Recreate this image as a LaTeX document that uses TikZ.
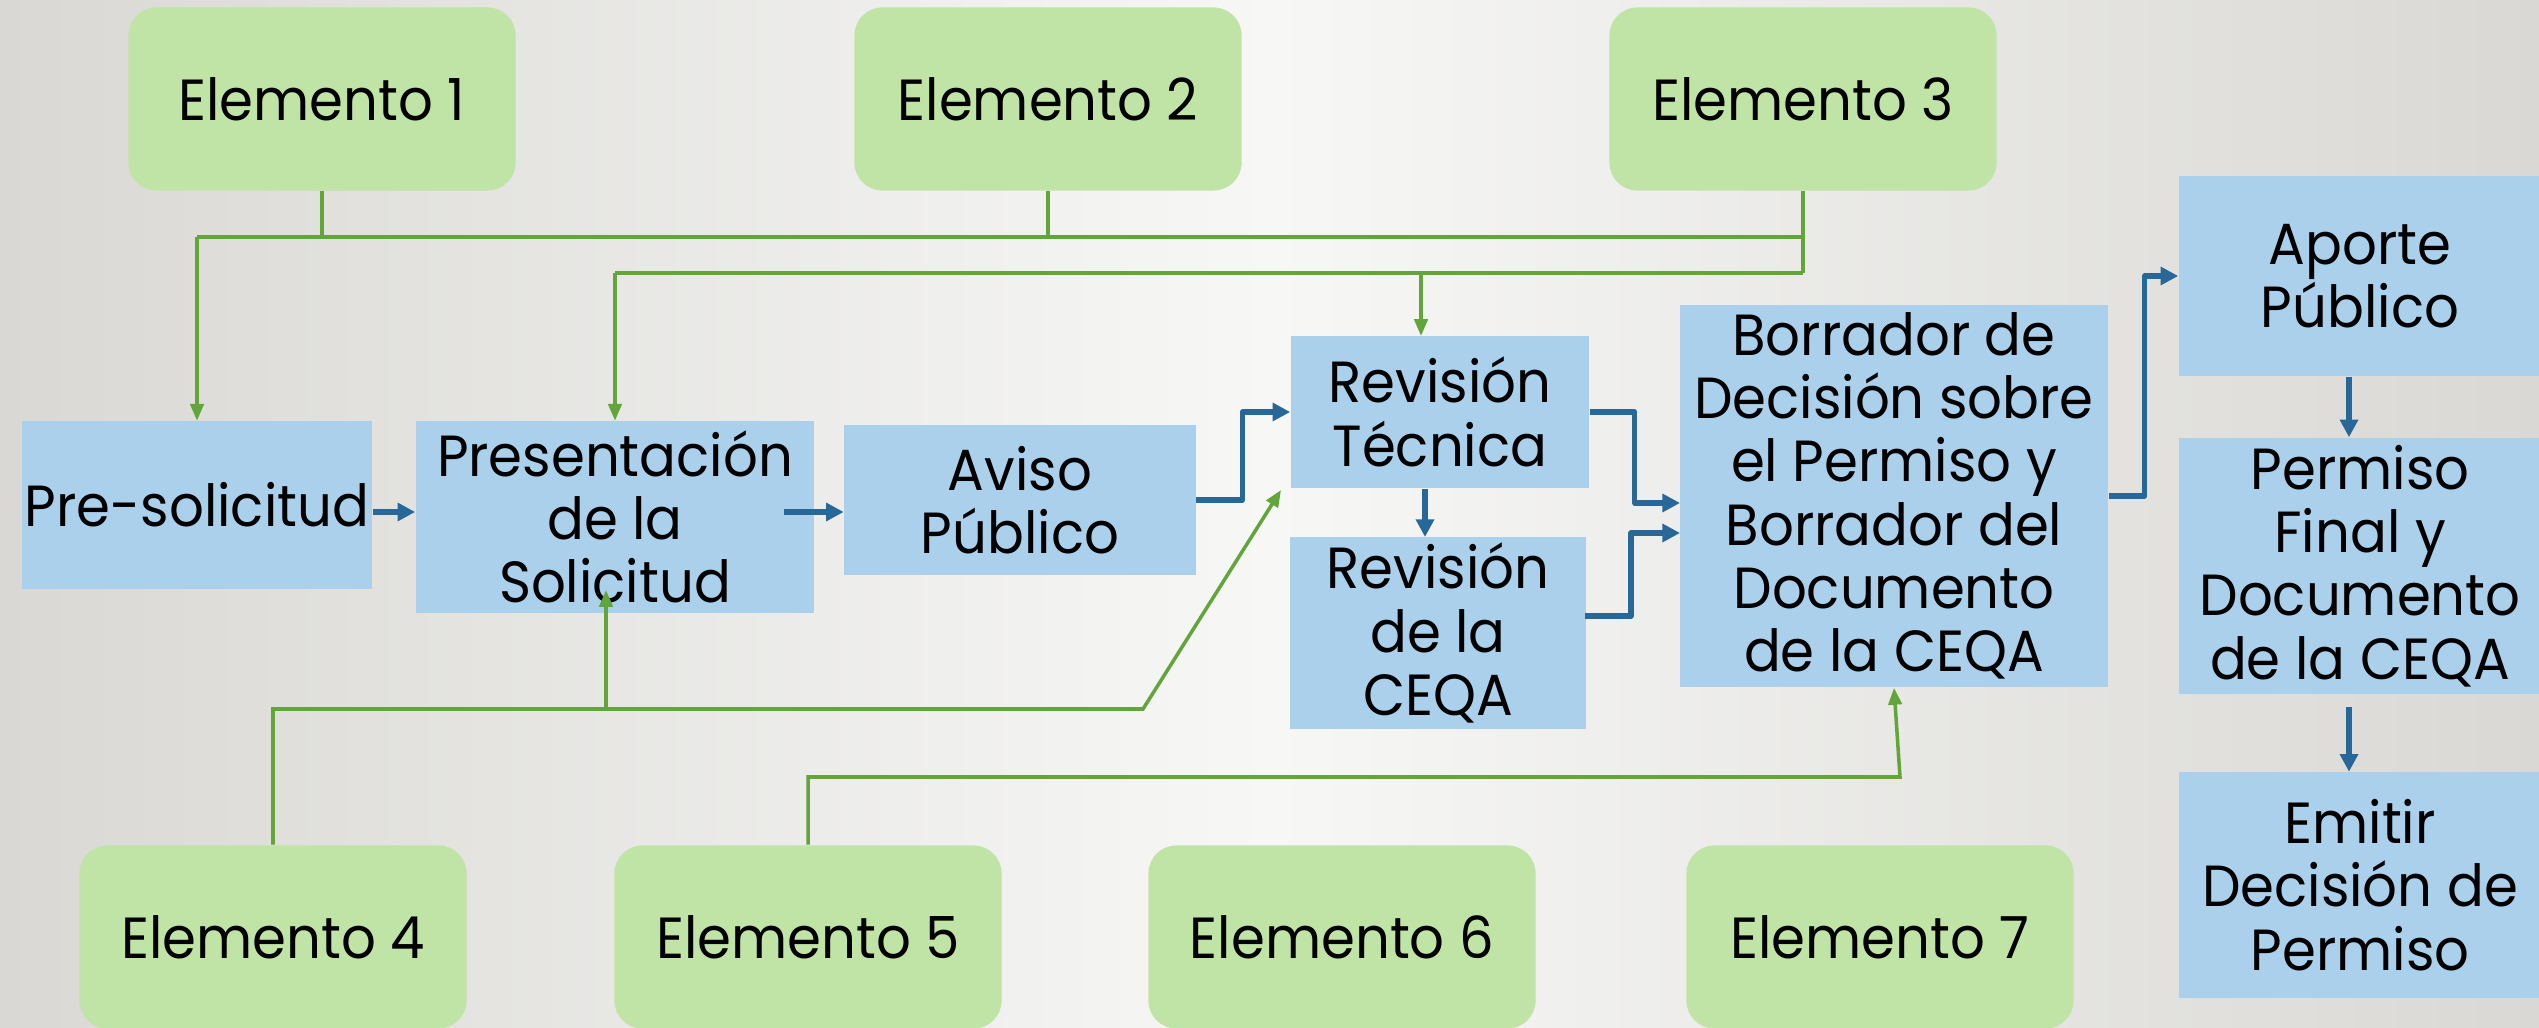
\documentclass[tikz,border=0pt]{standalone}
\usepackage{fontspec}
\setmainfont[FakeStretch=0.94]{Poppins}
\usetikzlibrary{arrows.meta}

\definecolor{elemgreen}{RGB}{192,227,166}
\definecolor{stageblue}{RGB}{171,208,235}
\definecolor{linkgreen}{RGB}{98,165,58}
\definecolor{flowblue}{RGB}{39,104,153}
\definecolor{bgside}{RGB}{217,216,212}
\definecolor{bgmid}{RGB}{247,247,246}

\begin{document}
\begin{tikzpicture}[x=0.01cm,y=-0.01cm,
  font=\fontsize{16.5}{18}\selectfont,
  elem/.style={fill=elemgreen,rounded corners=0.28cm,minimum width=3.87cm,minimum height=1.83cm,inner sep=0pt,align=center},
  stage/.style={fill=stageblue,inner sep=0pt,align=center},
  glink/.style={draw=linkgreen,line width=1pt},
  garrow/.style={glink,-{Triangle[length=4.8pt,width=3.8pt]}},
  barrow/.style={draw=flowblue,line width=1.5pt,line join=round,-{Triangle[length=5pt,width=5pt]}}]

% background
\shade[left color=bgside,right color=bgside,middle color=bgmid] (0,0) rectangle (2539,1028);
\useasboundingbox (0,0) rectangle (2539,1028);

% Stages
\node[stage,minimum width=3.50cm,minimum height=1.67cm] (pre) at (197,505) {Pre-solicitud};
\node[stage,minimum width=3.98cm,minimum height=1.91cm] (pres) at (615,517) {Presentación\\de la\\Solicitud};
\node[stage,minimum width=3.51cm,minimum height=1.49cm] (aviso) at (1020,500) {Aviso\\Público};
\node[stage,minimum width=2.98cm,minimum height=1.52cm] (rtec) at (1440,412) {Revisión\\Técnica};
\node[stage,minimum width=2.95cm,minimum height=1.91cm] (rceqa) at (1438,633) {Revisión\\de la\\CEQA};
\node[stage,minimum width=4.28cm,minimum height=3.82cm] (borr) at (1894,496) {Borrador de\\Decisión sobre\\el Permiso y\\Borrador del\\Documento\\de la CEQA};
\node[stage,minimum width=3.62cm,minimum height=2.00cm] (aporte) at (2360,276) {Aporte\\Público};
\node[stage,minimum width=3.62cm,minimum height=2.56cm] (final) at (2360,566) {Permiso\\Final y\\Documento\\de la CEQA};
\node[stage,minimum width=3.62cm,minimum height=2.25cm] (emitir) at (2360,885) {Emitir\\Decisión de\\Permiso};

% Elements
\node[elem] (e1) at (322,99) {Elemento 1};
\node[elem] (e2) at (1048,99) {Elemento 2};
\node[elem] (e3) at (1803,99) {Elemento 3};
\node[elem] (e4) at (273,937) {Elemento 4};
\node[elem] (e5) at (808,937) {Elemento 5};
\node[elem] (e6) at (1342,937) {Elemento 6};
\node[elem] (e7) at (1880,937) {Elemento 7};

\coordinate (top1) at (197,237);
\coordinate (top2) at (615,273);
\coordinate (tecin) at (1421,336);
\coordinate (bend1) at (1143,709);
\coordinate (tecdiag) at (1281,490);
\coordinate (solin) at (606,590);
\coordinate (bend2) at (1900,777);

% upper links
\draw[glink] (e1.south) -- (e1.south |- top1);
\draw[glink] (e2.south) -- (e2.south |- top1);
\draw[glink] (e3.south) -- (e3.south |- top2);
\draw[glink] (top1) -- (top1 -| e3.south);
\draw[glink] (top2) -- (top2 -| e3.south);
\draw[garrow] (top1) -- (pre.north);
\draw[garrow] (top2) -- (pres.north);
\draw[garrow] (top2 -| tecin) -- (tecin);

% lower links
\draw[garrow] (e4.north) |- (bend1) -- (tecdiag);
\draw[garrow] (solin |- bend1) -- (solin);
\draw[garrow] (e5.north) |- (bend2) -- (borr.south);

% flow
\coordinate (presout) at (784,512);
\coordinate (borin1) at (1680,503);
\coordinate (borin2) at (1680,533);
\coordinate (ceqaout) at (1585,616);
\coordinate (ceqain) at (1425,537);
\coordinate (downx) at (2349,707);
\draw[barrow] (pre.east |- presout) -- (pres.west |- presout);
\draw[barrow] (presout) -- (aviso.west |- presout);
\draw[barrow] (aviso.east) -- ++(46,0) |- (rtec.west);
\draw[barrow] (rtec.east) -- ++(45,0) |- (borin1);
\draw[barrow] (ceqain |- rtec.south) -- (ceqain);
\draw[barrow] (ceqaout) -- ++(46,0) |- (borin2);
\draw[barrow] (borr.east) -- ++(36,0) |- (aporte.west);
\draw[barrow] (downx |- aporte.south) -- (downx |- final.north);
\draw[barrow] (downx) -- (downx |- emitir.north);

\end{tikzpicture}
\end{document}
